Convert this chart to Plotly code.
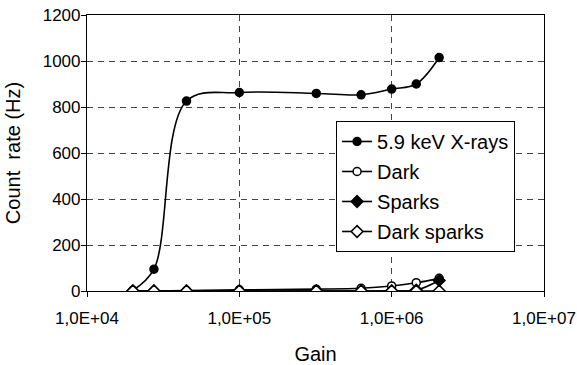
import plotly.graph_objects as go

gain = [2.0e4, 2.75e4, 4.5e4, 1.0e5, 3.2e5, 6.3e5, 1.0e6, 1.45e6, 2.05e6]
xrays = [3, 95, 826, 863, 859, 853, 878, 900, 1015]
dark = [0, 0, 2, 5, 8, 12, 22, 36, 55]
sparks = [0, 0, 0, 0, 0, 0, 0, 4, 46]
dark_sparks = [0, 0, 0, 0, 0, 0, 0, 0, 0]

series_names = ["5.9 keV X-rays", "Dark", "Sparks", "Dark sparks"]
x_tickvals = [1e4, 1e5, 1e6, 1e7]
x_ticktext = ["1,0E+04", "1,0E+05", "1,0E+06", "1,0E+07"]
y_tickvals = [0, 200, 400, 600, 800, 1000, 1200]

styles = [
    dict(symbol="circle", color="black"),
    dict(symbol="circle", color="white"),
    dict(symbol="diamond", color="black"),
    dict(symbol="diamond", color="white"),
]

fig = go.Figure()
for i, (name, ys, st) in enumerate(zip(series_names, [xrays, dark, sparks, dark_sparks], styles)):
    fig.add_trace(go.Scatter(
        x=gain, y=ys, name=name, mode="lines+markers", legendgroup=f"g{i}",
        line=dict(color="black", width=1.6, shape="spline", smoothing=1),
        marker=dict(symbol=st["symbol"], color=st["color"], size=8 if st["symbol"] == "circle" else 9,
                    line=dict(color="black", width=1.5)),
    ))

font = "Liberation Sans, Arial, sans-serif"
grid_dash = "6px,5px"
fig.update_layout(
    width=577, height=365,
    margin=dict(l=87, r=33, t=15, b=74),
    paper_bgcolor="white", plot_bgcolor="white",
    font=dict(family=font, color="black", size=16),
    showlegend=True,
    legend=dict(x=0.545, y=0.616, xanchor="left", yanchor="top",
                bordercolor="black", borderwidth=1, bgcolor="white",
                font=dict(size=20, family=font), tracegroupgap=1),
    xaxis=dict(type="log", range=[4, 7], tickvals=x_tickvals, ticktext=x_ticktext,
               showline=True, linecolor="black", linewidth=1.2, mirror=True,
               ticks="outside", ticklen=5, tickcolor="black",
               ticklabelstandoff=6,
               showgrid=True, gridcolor="#444444", griddash=grid_dash, gridwidth=1,
               zeroline=False, automargin=False,
               title=dict(text="Gain", font=dict(size=20), standoff=30),
               tickfont=dict(size=17)),
    yaxis=dict(range=[0, 1200], tickvals=y_tickvals,
               showline=True, linecolor="black", linewidth=1.2, mirror=True,
               ticks="outside", ticklen=5, tickcolor="black",
               ticklabelstandoff=-3,
               showgrid=True, gridcolor="#444444", griddash=grid_dash, gridwidth=1,
               zeroline=False, automargin=False,
               title=dict(text="Count  rate (Hz)", font=dict(size=20), standoff=16),
               tickfont=dict(size=17)),
)

fig.write_html("out.html", config={"displayModeBar": False},
               post_script="document.body.style.margin='0';")
